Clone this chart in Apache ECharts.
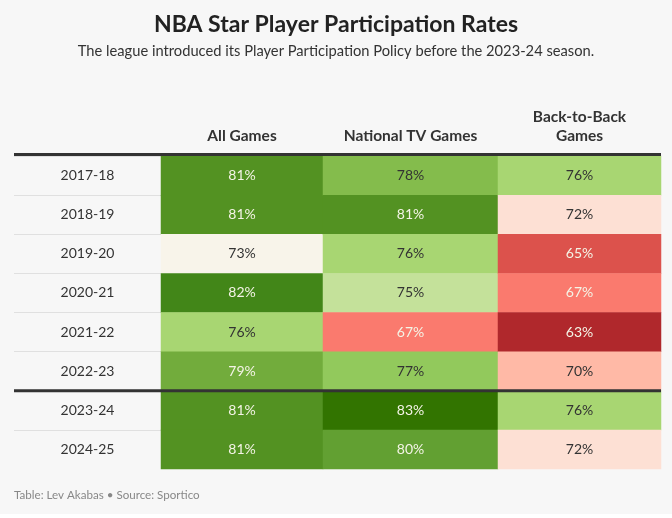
<!DOCTYPE html>
<html>
<head>
<meta charset="utf-8">
<script src="https://cdn.jsdelivr.net/npm/echarts@6/dist/echarts.min.js"></script>
<style>
  html, body { margin: 0; background: #f7f7f7; }
  #chart { width: 672px; height: 518px; }
</style>
</head>
<body>
<div id="chart"></div>
<script>
const seasons = ["2017-18", "2018-19", "2019-20", "2020-21", "2021-22", "2022-23", "2023-24", "2024-25"];
const columns = ["All Games", "National TV Games", "Back-to-Back\nGames"];
const allGames = [81, 81, 73, 82, 76, 79, 81, 81];
const nationalTV = [78, 81, 76, 75, 67, 77, 83, 80];
const backToBack = [76, 72, 65, 67, 63, 70, 76, 72];
const colValues = [allGames, nationalTV, backToBack];

// table layout
const tableTop = 156;
const tableHeight = 313;
const rowH = tableHeight / seasons.length;
const edges = [14, 161, 323, 498, 661];
const font = "Lato";

const chart = echarts.init(document.getElementById("chart"));

const grids = [];
const xAxes = [];
const yAxes = [];
const series = [];
for (let i = 0; i < 4; i++) {
  grids.push({ left: edges[i], width: edges[i + 1] - edges[i], top: tableTop, height: tableHeight });
  yAxes.push({
    type: "category",
    gridIndex: i,
    data: seasons,
    inverse: true,
    axisLine: { show: false },
    axisTick: { show: false },
    axisLabel: i === 0 ? {
      inside: true,
      margin: (edges[1] - edges[0]) / 2,
      align: "center",
      interval: 0,
      color: "#333",
      fontFamily: font,
      fontSize: 14,
    } : { show: false },
    splitLine: i === 0 ? { show: true, interval: 0, showMaxLine: false, lineStyle: { color: "#e0e0e0", width: 1 } } : { show: false },
  });
  xAxes.push({
    type: "category",
    gridIndex: i,
    position: "top",
    data: i === 0 ? [""] : [columns[i - 1]],
    axisLine: { show: false },
    axisTick: { show: false },
    splitLine: { show: false },
    axisLabel: {
      show: i > 0,
      margin: 11,
      color: "#333",
      fontFamily: font,
      fontWeight: "bold",
      fontSize: 15.5,
      lineHeight: 19,
    },
  });
  if (i > 0) {
    series.push({
      type: "heatmap",
      xAxisIndex: i,
      yAxisIndex: i,
      data: colValues[i - 1].map((v, r) => [0, r, v]),
      label: {
        show: true,
        formatter: (p) => {
          const v = p.value[2];
          return (v >= 79 || v <= 67 ? "{l|" : "{d|") + v + "%}";
        },
        rich: {
          l: { color: "#f4f4e6", fontFamily: font, fontSize: 14 },
          d: { color: "#333", fontFamily: font, fontSize: 14 },
        },
      },
      emphasis: { disabled: true },
    });
  }
}

chart.setOption({
  backgroundColor: "#f7f7f7",
  animation: false,
  title: [
    {
      text: "NBA Star Player Participation Rates",
      subtext: "The league introduced its Player Participation Policy before the 2023-24 season.",
      left: "center",
      top: 8,
      itemGap: 8,
      textStyle: { color: "#222", fontFamily: font, fontWeight: "bold", fontSize: 23 },
      subtextStyle: { color: "#333", fontFamily: font, fontSize: 14.7 },
    },
    {
      text: "Table: Lev Akabas \u2022 Source: Sportico",
      left: 9,
      top: 484,
      textStyle: { color: "#888", fontFamily: font, fontWeight: "normal", fontSize: 11.6 },
    },
  ],
  grid: grids,
  xAxis: xAxes,
  yAxis: yAxes,
  visualMap: {
    show: false,
    type: "piecewise",
    dimension: 2,
    seriesIndex: [0, 1, 2],
    pieces: [
      { value: 63, color: "#b0282c" },
      { value: 65, color: "#dc524c" },
      { value: 67, color: "#fa7a6e" },
      { value: 70, color: "#ffb9a6" },
      { value: 72, color: "#fde0d4" },
      { value: 73, color: "#f8f4ea" },
      { value: 75, color: "#c4e19a" },
      { value: 76, color: "#a8d672" },
      { value: 77, color: "#92c95c" },
      { value: 78, color: "#84bc4c" },
      { value: 79, color: "#72ac3c" },
      { value: 80, color: "#62a032" },
      { value: 81, color: "#539222" },
      { value: 82, color: "#428618" },
      { value: 83, color: "#327400" },
    ],
  },
  series: series,
  graphic: [
    {
      type: "line",
      shape: { x1: edges[0], y1: tableTop - 1.5, x2: edges[4], y2: tableTop - 1.5 },
      style: { stroke: "#333", lineWidth: 3 },
      z: 100,
    },
    {
      type: "line",
      shape: { x1: edges[0], y1: tableTop + rowH * 6, x2: edges[4], y2: tableTop + rowH * 6 },
      style: { stroke: "#333", lineWidth: 3 },
      z: 100,
    },
    {
      type: "rect",
      shape: { x: 0, y: 514, width: 672, height: 4 },
      style: { fill: "#ffffff" },
    },
  ],
});
</script>
</body>
</html>
